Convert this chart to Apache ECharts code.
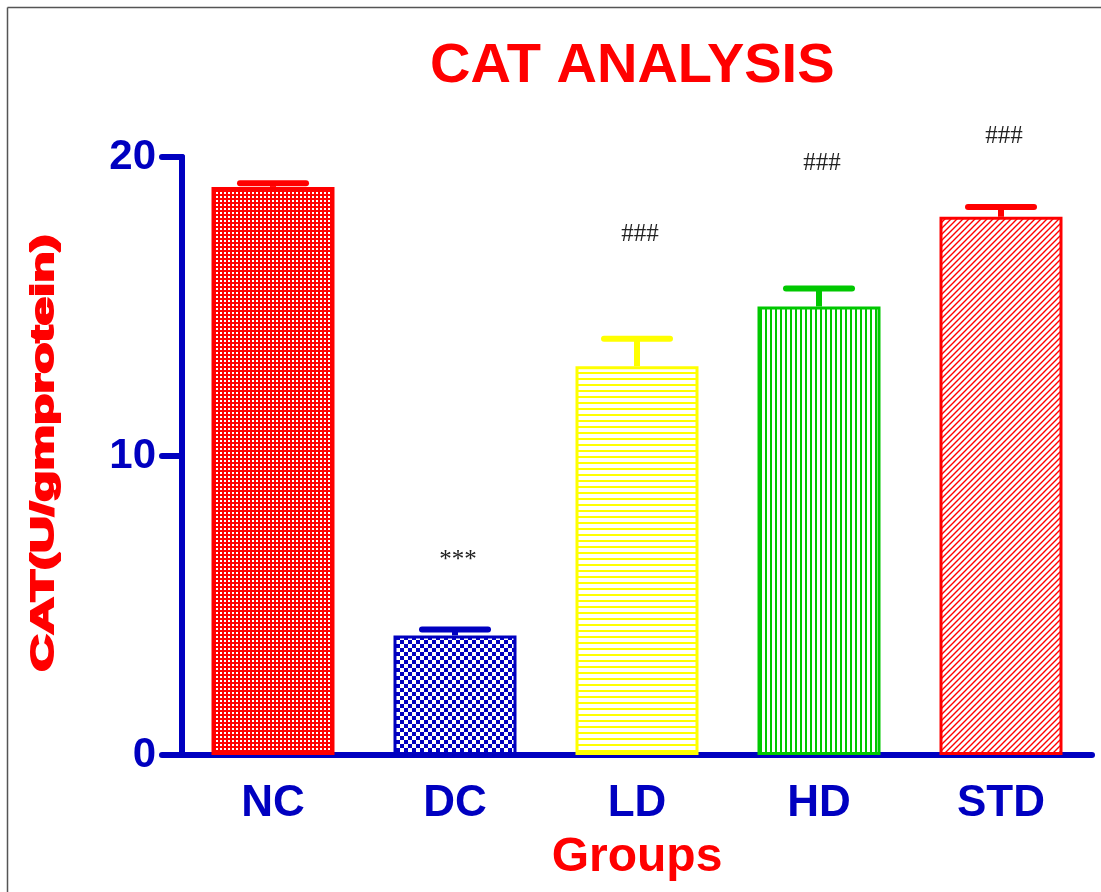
<!DOCTYPE html>
<html>
<head>
<meta charset="utf-8">
<script src="https://cdn.jsdelivr.net/npm/echarts@6/dist/echarts.min.js"></script>
<style>
  html, body { margin: 0; padding: 0; background: #fff; }
  #chart { width: 1101px; height: 892px; }
</style>
</head>
<body>
<div id="chart"></div>
<script>
var categories = ['NC', 'DC', 'LD', 'HD', 'STD'];
var means = [19.0, 4.0, 13.0, 15.0, 18.0];
var upper = [19.12, 4.2, 13.92, 15.6, 18.33];
var marks = ['', '***', '###', '###', '###'];
var markY = [null, 6.5, 17.4, 19.8, 20.7];
var yTicks = [0, 10, 20];

var blue = '#0000c0';
var edgeColors = ['#ff0000', '#0000c0', '#ffff00', '#00c800', '#ff0000'];

// fill patterns for each bar
function pattern(w, h, draw) {
    var c = document.createElement('canvas');
    c.width = w;
    c.height = h;
    var ctx = c.getContext('2d');
    ctx.fillStyle = '#fff';
    ctx.fillRect(0, 0, w, h);
    draw(ctx);
    return { image: c, repeat: 'repeat' };
}

var fills = [
    pattern(4, 4, function (ctx) {
        ctx.fillStyle = '#ff0000';
        ctx.fillRect(0, 0, 4, 4);
        ctx.fillStyle = '#fff';
        ctx.fillRect(0, 0, 2, 2);
    }),
    pattern(8, 8, function (ctx) {
        ctx.fillStyle = blue;
        ctx.fillRect(0, 0, 4, 4);
        ctx.fillRect(4, 4, 4, 4);
    }),
    pattern(6, 6, function (ctx) {
        ctx.fillStyle = '#ffff00';
        ctx.fillRect(0, 0, 6, 2);
    }),
    pattern(5, 5, function (ctx) {
        ctx.fillStyle = '#00c800';
        ctx.fillRect(0, 0, 2, 5);
    }),
    pattern(6, 6, function (ctx) {
        ctx.strokeStyle = '#ff0000';
        ctx.lineWidth = 1.4;
        ctx.beginPath();
        ctx.moveTo(-1, 7); ctx.lineTo(7, -1);
        ctx.moveTo(-4, 4); ctx.lineTo(4, -4);
        ctx.moveTo(2, 10); ctx.lineTo(10, 2);
        ctx.stroke();
    })
];

var chart = echarts.init(document.getElementById('chart'));

chart.setOption({
    backgroundColor: '#fff',
    animation: false,
    title: {
        text: 'CAT ANALYSIS',
        left: 425,
        top: 34,
        textStyle: { color: '#ff0000', fontSize: 56, fontWeight: 'bold', fontFamily: 'Liberation Sans' }
    },
    grid: { left: 182, right: 9, top: 157, bottom: 137 },
    xAxis: {
        type: 'category',
        data: categories,
        name: 'Groups',
        nameLocation: 'middle',
        nameGap: 79,
        nameTextStyle: { color: '#ff0000', fontSize: 48, fontWeight: 'bold', fontFamily: 'Liberation Sans' },
        axisLine: { lineStyle: { color: blue, width: 6, cap: 'round' } },
        axisTick: { show: false },
        axisLabel: { color: blue, fontSize: 44, fontWeight: 'bold', fontFamily: 'Liberation Sans', margin: 27 }
    },
    yAxis: {
        type: 'value',
        min: yTicks[0],
        max: yTicks[yTicks.length - 1],
        interval: 10,
        axisLine: { show: true, lineStyle: { color: blue, width: 6 } },
        axisTick: { show: true, length: 20, lineStyle: { color: blue, width: 6, cap: 'round' } },
        splitLine: { show: false },
        axisLabel: { color: blue, fontSize: 42, fontWeight: 'bold', fontFamily: 'Liberation Sans', margin: 26 }
    },
    graphic: [
        { type: 'line', shape: { x1: 7.5, y1: 7.5, x2: 1101, y2: 7.5 }, style: { stroke: '#555', lineWidth: 1.5 } },
        { type: 'line', shape: { x1: 7.5, y1: 7.5, x2: 7.5, y2: 892 }, style: { stroke: '#555', lineWidth: 1.5 } },
        {
            type: 'text',
            x: 44,
            y: 453,
            rotation: Math.PI / 2,
            scaleX: 1.6,
            style: {
                text: 'CAT(U/gmprotein)',
                fill: '#ff0000',
                stroke: '#ff0000',
                lineWidth: 2,
                font: 'bold 32px "Liberation Sans"',
                align: 'center',
                verticalAlign: 'middle'
            }
        }
    ],
    series: [
        {
            type: 'bar',
            barWidth: 123,
            data: means.map(function (v, i) {
                return {
                    value: v,
                    itemStyle: { color: fills[i], borderColor: edgeColors[i], borderWidth: 3 }
                };
            })
        },
        {
            type: 'custom',
            clip: false,
            data: means.map(function (v, i) { return [i, v, upper[i]]; }),
            renderItem: function (params, api) {
                var i = api.value(0);
                var base = api.coord([i, api.value(1)]);
                var top = api.coord([i, api.value(2)]);
                var col = edgeColors[i];
                var half = 33;
                return {
                    type: 'group',
                    children: [
                        { type: 'line', shape: { x1: base[0], y1: base[1], x2: top[0], y2: top[1] },
                          style: { stroke: col, lineWidth: 6 } },
                        { type: 'line', shape: { x1: top[0] - half, y1: top[1], x2: top[0] + half, y2: top[1] },
                          style: { stroke: col, lineWidth: 6, lineCap: 'round' } }
                    ]
                };
            },
            z: 3
        },
        {
            type: 'custom',
            clip: false,
            data: marks.map(function (m, i) { return [i, markY[i] == null ? 0 : markY[i], m]; }),
            renderItem: function (params, api) {
                var i = params.dataIndex;
                if (!marks[i]) return null;
                var p = api.coord([i, markY[i]]);
                return {
                    type: 'text',
                    x: p[0] + 3,
                    y: p[1],
                    style: {
                        text: marks[i],
                        fill: '#222',
                        font: '25px "Liberation Serif"',
                        align: 'center',
                        verticalAlign: 'middle'
                    }
                };
            },
            z: 4
        }
    ]
});
</script>
</body>
</html>
